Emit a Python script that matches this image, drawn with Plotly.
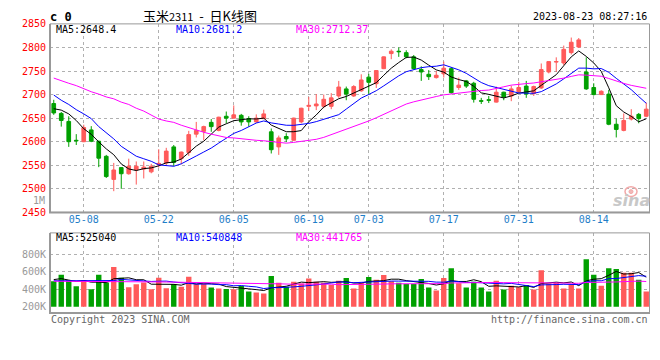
import plotly.graph_objects as go
import pandas as pd

# ---------------- data ----------------
dates = ["04-27", "04-28", "05-04", "05-05", "05-08", "05-09", "05-10", "05-11", "05-12", "05-15",
         "05-16", "05-17", "05-18", "05-19", "05-22", "05-23", "05-24", "05-25", "05-26", "05-29",
         "05-30", "05-31", "06-01", "06-02", "06-05", "06-06", "06-07", "06-08", "06-09", "06-12",
         "06-13", "06-14", "06-15", "06-16", "06-19", "06-20", "06-21", "06-26", "06-27", "06-28",
         "06-29", "06-30", "07-03", "07-04", "07-05", "07-06", "07-07", "07-10", "07-11", "07-12",
         "07-13", "07-14", "07-17", "07-18", "07-19", "07-20", "07-21", "07-24", "07-25", "07-26",
         "07-27", "07-28", "07-31", "08-01", "08-02", "08-03", "08-04", "08-07", "08-08", "08-09",
         "08-10", "08-11", "08-14", "08-15", "08-16", "08-17", "08-18", "08-21", "08-22", "08-23"]

opens = [2681, 2660, 2643, 2603, 2600, 2625, 2601, 2569, 2520, 2545,
         2532, 2540, 2542, 2536, 2551, 2555, 2589, 2564, 2577, 2616,
         2622, 2641, 2624, 2654, 2650, 2656, 2649, 2642, 2649, 2621,
         2589, 2611, 2603, 2642, 2675, 2676, 2675, 2675, 2697, 2712,
         2697, 2708, 2737, 2723, 2755, 2787, 2792, 2789, 2780, 2753,
         2743, 2736, 2744, 2755, 2715, 2729, 2724, 2687, 2689, 2684,
         2705, 2697, 2706, 2718, 2702, 2714, 2748, 2769, 2767, 2789,
         2801, 2748, 2715, 2700, 2701, 2637, 2624, 2648, 2658, 2654]
closes = [2661, 2645, 2600, 2602, 2630, 2601, 2565, 2526, 2540, 2532,
          2548, 2548, 2546, 2548, 2554, 2580, 2556, 2578, 2615, 2624,
          2632, 2632, 2652, 2650, 2657, 2642, 2642, 2650, 2659, 2583,
          2608, 2606, 2650, 2671, 2677, 2680, 2690, 2693, 2716, 2701,
          2717, 2731, 2726, 2751, 2780, 2792, 2791, 2780, 2755, 2748,
          2738, 2741, 2756, 2704, 2720, 2718, 2690, 2686, 2688, 2705,
          2695, 2712, 2715, 2701, 2717, 2753, 2770, 2770, 2796, 2811,
          2816, 2712, 2700, 2707, 2637, 2626, 2645, 2654, 2649, 2669]
highs = [2689, 2663, 2654, 2616, 2636, 2633, 2602, 2572, 2555, 2546,
         2564, 2558, 2558, 2553, 2584, 2587, 2593, 2579, 2623, 2642,
         2634, 2648, 2653, 2664, 2677, 2659, 2654, 2658, 2668, 2628,
         2613, 2618, 2651, 2672, 2695, 2701, 2700, 2703, 2729, 2717,
         2720, 2743, 2744, 2752, 2781, 2796, 2800, 2794, 2784, 2760,
         2752, 2750, 2770, 2758, 2736, 2731, 2727, 2693, 2697, 2717,
         2706, 2719, 2727, 2729, 2719, 2766, 2770, 2779, 2804, 2821,
         2820, 2779, 2724, 2709, 2710, 2649, 2660, 2669, 2661, 2683]
lows = [2657, 2632, 2589, 2593, 2599, 2599, 2546, 2523, 2495, 2500,
        2530, 2509, 2522, 2533, 2545, 2550, 2548, 2552, 2570, 2609,
        2603, 2621, 2622, 2639, 2649, 2634, 2632, 2640, 2648, 2575,
        2572, 2599, 2602, 2639, 2665, 2667, 2671, 2669, 2693, 2688,
        2695, 2706, 2700, 2714, 2754, 2775, 2780, 2777, 2753, 2729,
        2731, 2734, 2736, 2702, 2710, 2714, 2683, 2680, 2682, 2683,
        2688, 2686, 2704, 2693, 2697, 2712, 2745, 2748, 2762, 2785,
        2799, 2710, 2698, 2699, 2635, 2609, 2622, 2645, 2639, 2652]
volumes = [492000, 567000, 503000, 433000, 503000, 400000, 567000, 478000, 656000, 533000,
           422000, 456000, 478000, 400000, 533000, 411000, 459000, 430000, 544000, 456000,
           467000, 419000, 408000, 403000, 400000, 437000, 374000, 363000, 352000, 552000,
           474000, 430000, 486000, 467000, 522000, 486000, 474000, 448000, 497000, 530000,
           408000, 474000, 541000, 508000, 563000, 492000, 474000, 459000, 459000, 519000,
           419000, 386000, 530000, 641000, 470000, 419000, 486000, 419000, 374000, 497000,
           397000, 441000, 422000, 448000, 397000, 619000, 467000, 474000, 408000, 448000,
           408000, 744000, 567000, 441000, 641000, 633000, 589000, 589000, 508000, 374000]

# moving-average values visible before enough in-window history exists
ma5_head = [2670, 2667, 2659, 2645]
ma10_head = [2699, 2688, 2679, 2668, 2659, 2649, 2632, 2620, 2606]
ma30_head = [2735, 2729, 2724, 2719, 2712, 2706, 2701, 2695, 2691, 2684,
             2679, 2671, 2665, 2656, 2648, 2644, 2641, 2635, 2630, 2624,
             2620, 2616, 2613, 2609, 2608, 2606, 2604, 2603, 2602]
vma5_head = [511000, 522000, 505000, 489000]
vma10_head = [497000, 497000, 496000, 497000, 499000, 495000, 494000, 492000, 500000]
vma30_head = [492000, 492000, 491000, 491000, 490000, 490000, 490000, 490000, 490000, 489000,
              488000, 487000, 486000, 485000, 484000, 483000, 481000, 480000, 479000, 477000,
              476000, 474000, 473000, 471000, 470000, 468000, 467000, 466000, 464000]

price_ticks = [2450, 2500, 2550, 2600, 2650, 2700, 2750, 2800, 2850]
volume_ticks = [200000, 400000, 600000, 800000]
volume_tick_text = ["200K", "400K", "600K", "800K"]
date_ticks = ["05-08", "05-22", "06-05", "06-19", "07-03", "07-17", "07-31", "08-14"]

title_text = "玉米<span style='font-size:11px'>2311</span>&nbsp;&nbsp;-&nbsp;&nbsp;日K线图"
time_text = "2023-08-23 08:27:16"
price_ma_labels = ["MA5:2648.4", "MA10:2681.2", "MA30:2712.37"]
volume_ma_labels = ["MA5:525040", "MA10:540848", "MA30:441765"]

# ---------------- styling ----------------
W, H = 660, 360
RED = "#ff5a5a"
GREEN = "#00a000"
MA_COLORS = ["#000000", "#0000ff", "#ff00ff"]
MONO = "DejaVu Sans Mono"
FRAME = "#999999"
GRID = "#b0b0b0"


def px(x):
    return x / W


def py(y):
    return 1 - y / H


def moving_avg(values, n, head):
    s = pd.Series(values, dtype=float).rolling(n).mean().tolist()
    return list(head) + s[len(head):]


ma5 = moving_avg(closes, 5, ma5_head)
ma10 = moving_avg(closes, 10, ma10_head)
ma30 = moving_avg(closes, 30, ma30_head)
vma5 = moving_avg(volumes, 5, vma5_head)
vma10 = moving_avg(volumes, 10, vma10_head)
vma30 = moving_avg(volumes, 30, vma30_head)

bar_colors = [RED if c >= o else GREEN for o, c in zip(opens, closes)]

fig = go.Figure()
fig.add_trace(go.Candlestick(
    x=dates, open=opens, high=highs, low=lows, close=closes,
    increasing=dict(line=dict(color=RED, width=1), fillcolor=RED),
    decreasing=dict(line=dict(color=GREEN, width=1), fillcolor=GREEN),
    whiskerwidth=0, xaxis="x", yaxis="y", showlegend=False))
for series, col in zip([ma5, ma10, ma30], MA_COLORS):
    fig.add_trace(go.Scatter(x=dates, y=series, mode="lines",
                             line=dict(color=col, width=1), xaxis="x", yaxis="y",
                             showlegend=False))

fig.add_trace(go.Bar(x=dates, y=volumes, marker=dict(color=bar_colors, line=dict(width=0)),
                     width=0.72, xaxis="x2", yaxis="y2", showlegend=False))
for series, col in zip([vma5, vma10, vma30], MA_COLORS):
    fig.add_trace(go.Scatter(x=dates, y=series, mode="lines",
                             line=dict(color=col, width=1), xaxis="x2", yaxis="y2",
                             showlegend=False))

x_dom = [px(50), px(650)]
main_top, main_bot = 18.5, 213.5
vol_top, vol_bot, vol_frame_bot = 234.7, 311, 317.5
vol_px_per_100k = 9.0
vol_top_value = volume_ticks[0] + (vol_bot - vol_top) / vol_px_per_100k * 100000

common_x = dict(type="category", range=[-0.5, len(dates) - 0.5], tickmode="array",
                tickvals=date_ticks, showgrid=True, gridcolor=GRID, griddash="dot",
                gridwidth=1, showline=False, zeroline=False, ticks="", fixedrange=True)

fig.update_layout(
    width=W, height=H, margin=dict(l=0, r=0, t=0, b=0), autosize=False,
    paper_bgcolor="white", plot_bgcolor="white", showlegend=False,
    xaxis=dict(domain=x_dom, anchor="y", rangeslider=dict(visible=False),
               showticklabels=True, tickfont=dict(family=MONO, size=10, color="#1e7ec8"),
               ticktext=date_ticks, **common_x),
    xaxis2=dict(domain=x_dom, anchor="y2", matches="x", showticklabels=False, **common_x),
    yaxis=dict(domain=[py(main_bot), py(main_top)], range=[price_ticks[0], price_ticks[-1]],
               tickmode="array", tickvals=price_ticks, ticks="", ticklabelstandoff=3,
               tickfont=dict(family=MONO, size=10, color="#ff0000"),
               showgrid=True, gridcolor=GRID, griddash="dot", zeroline=False, showline=False,
               fixedrange=True),
    yaxis2=dict(domain=[py(vol_bot), py(vol_top)], range=[volume_ticks[0], vol_top_value],
                tickmode="array", tickvals=volume_ticks, ticktext=volume_tick_text,
                ticks="", ticklabelstandoff=3,
                tickfont=dict(family=MONO, size=10, color="#999999"),
                showgrid=True, gridcolor=GRID, griddash="dot", zeroline=False, showline=False,
                fixedrange=True),
)

shapes = []
for top, bot in [(main_top, main_bot), (vol_top, vol_frame_bot)]:
    shapes.append(dict(type="rect", xref="paper", yref="paper", x0=px(50), x1=px(649.5),
                       y0=py(bot), y1=py(top), line=dict(color=FRAME, width=1), layer="above"))
    shapes.append(dict(type="line", xref="paper", yref="paper", x0=px(50), x1=px(50),
                       y0=py(bot), y1=py(top), line=dict(color=FRAME, width=2), layer="above"))
    shapes.append(dict(type="line", xref="paper", yref="paper", x0=px(49), x1=px(650),
                       y0=py(bot), y1=py(bot), line=dict(color=FRAME, width=2), layer="above"))
# sina watermark "eye" logo
shapes.append(dict(type="circle", xref="paper", yref="paper", x0=px(625), x1=px(637),
                   y0=py(197), y1=py(187), line=dict(color="#f2a9a9", width=1.5),
                   fillcolor="rgba(255,255,255,0)", layer="above"))
shapes.append(dict(type="circle", xref="paper", yref="paper", x0=px(629), x1=px(633),
                   y0=py(194), y1=py(190), line=dict(color="#f2a9a9", width=1),
                   fillcolor="#f2b9b9", layer="above"))
fig.update_layout(shapes=shapes)


def note(x, y, text, size, color, anchor, family=MONO):
    return dict(x=px(x), y=py(y), xref="paper", yref="paper", text=text, showarrow=False,
                font=dict(family=family, size=size, color=color),
                xanchor=anchor, yanchor="middle")


ann = [
    note(200, 10, title_text, 13, "#000", "center", "Noto Sans CJK SC"),
    note(48, 11, "<b>c 0</b>", 12, "#000", "left"),
    note(649, 11, time_text, 10, "#000", "right"),
    note(47, 201, "1M", 10, "#999999", "right"),
    note(49, 324, "Copyright 2023 SINA.COM", 10, "#666666", "left"),
    note(650, 324, "http://finance.sina.com.cn", 10, "#666666", "right"),
    note(652, 201, "<b><i>sina</i></b>", 16, "#c8c8c8", "right", "DejaVu Sans"),
]
for i, (lab, col) in enumerate(zip(price_ma_labels, MA_COLORS)):
    ann.append(note(54 + 120 * i, 24, lab, 10, col, "left"))
for i, (lab, col) in enumerate(zip(volume_ma_labels, MA_COLORS)):
    ann.append(note(54 + 120 * i, 239, lab, 10, col, "left"))
fig.update_layout(annotations=ann)

fig.write_html("out.html", config={"responsive": False, "displayModeBar": False},
               post_script="document.body.style.margin='0';document.body.style.padding='0';")
